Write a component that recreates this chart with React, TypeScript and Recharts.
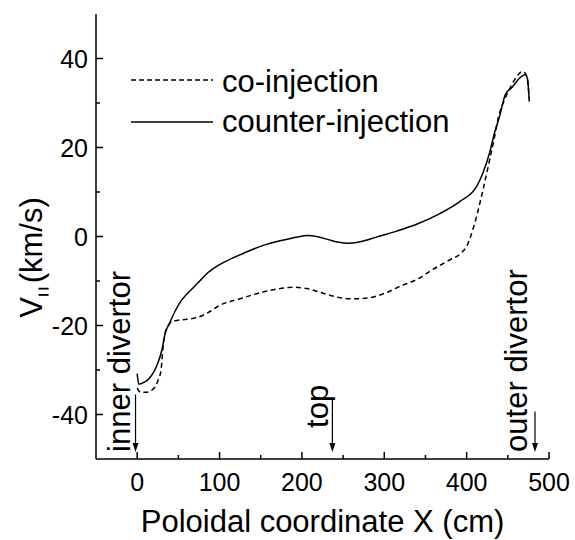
import React from "react";
import {
	LineChart,
	Line,
	XAxis,
	YAxis,
	Legend,
	Label,
	ReferenceLine,
} from "recharts";

// poloidal coordinate (cm) and V|| (km/s)
const coX = [0, 4, 12, 18, 22, 26, 29, 31.5, 34, 38, 42, 50, 60, 73, 86, 100, 125, 150, 174, 190, 206, 218, 230, 245, 262, 280, 300, 319, 340, 359, 378, 394, 400, 410, 420, 428, 434, 438, 447, 453, 461, 468, 473, 476];
const coV = [-34, -35, -35, -34.5, -33.7, -32, -30, -24.7, -21.6, -20, -19.1, -18.8, -18.6, -18.2, -17.1, -15.5, -14, -12.6, -11.7, -11.4, -11.7, -12.3, -13, -13.7, -14, -13.8, -12.8, -11.2, -9.6, -7.4, -5.4, -3.6, -2.2, 3.1, 10.6, 17.3, 22.5, 26.3, 31.2, 33.5, 36, 37.1, 36, 31];

const counterX = [0, 2, 8, 14, 20, 25, 30, 34, 40, 46, 52, 60, 68, 77, 86, 100, 113, 130, 153, 175, 195, 206, 218, 232, 245, 256, 268, 282, 295, 315, 340, 368, 392, 412, 420, 428, 434, 440, 447, 455, 465, 471, 474, 476];
const counterV = [-30.8, -33.2, -32.8, -32, -30.5, -28.5, -25.5, -21.8, -19.2, -16.8, -14.8, -13, -11.5, -9.8, -8.1, -6.3, -5.1, -3.7, -2, -0.9, -0.1, 0.2, 0, -0.7, -1.3, -1.5, -1.3, -0.6, 0.1, 1.2, 2.8, 5.2, 7.9, 11.2, 14.4, 18.9, 23.4, 27, 31.9, 33.5, 35.7, 36.4, 35.3, 30.3];

const xTicks = [0, 50, 100, 150, 200, 250, 300, 350, 400, 450, 500];
const yTicks = [-40, -30, -20, -10, 0, 10, 20, 30, 40];

// arrows marking positions along the poloidal coordinate
const markLabels = ["inner divertor", "top", "outer divertor"];
const markX = [-2, 237, 483];
const markTopV = [-35.5, -36.6, -39.3];
const markBottomV = -48.4;

const coData = coX.map((x, i) => ({ x, v: coV[i] }));
const counterData = counterX.map((x, i) => ({ x, v: counterV[i] }));

const FONT = "'Liberation Sans', Arial, Helvetica, sans-serif";

const BottomTick = (props: any) => {
	const { x, y, payload } = props;
	const major = payload.value % 100 === 0;
	return (
		<g>
			<line x1={x} y1={y} x2={x} y2={y - (major ? 7 : 4)} stroke="#000" strokeWidth={1.5} />
			{major && (
				<text x={x} y={y + 32} textAnchor="middle" fontSize={25} fontFamily={FONT} fill="#000">
					{payload.value}
				</text>
			)}
		</g>
	);
};

const TopTick = (props: any) => {
	const { x, y, payload } = props;
	const major = payload.value % 100 === 0;
	return <line x1={x} y1={y} x2={x} y2={y + (major ? 7 : 4)} stroke="#000" strokeWidth={1.5} />;
};

const LeftTick = (props: any) => {
	const { x, y, payload } = props;
	const major = payload.value % 20 === 0;
	return (
		<g>
			<line x1={x} y1={y} x2={x + (major ? 7 : 4)} y2={y} stroke="#000" strokeWidth={1.5} />
			{major && (
				<text x={x - 8} y={y + 9} textAnchor="end" fontSize={25} fontFamily={FONT} fill="#000">
					{payload.value}
				</text>
			)}
		</g>
	);
};

const RightTick = (props: any) => {
	const { x, y, payload } = props;
	const major = payload.value % 20 === 0;
	return <line x1={x} y1={y} x2={x - (major ? 7 : 4)} y2={y} stroke="#000" strokeWidth={1.5} />;
};

const YTitle = (props: any) => {
	const vb = props.viewBox;
	const cx = vb.x + 42;
	const cy = vb.y + vb.height / 2 + 21;
	return (
		<text
			x={cx}
			y={cy}
			transform={`rotate(-90 ${cx} ${cy})`}
			textAnchor="middle"
			fontSize={31}
			fontFamily={FONT}
			fill="#000"
		>
			V
			<tspan fontSize={9} dx={1} dy={4} letterSpacing={4} stroke="#000" strokeWidth={1.1}>||</tspan>
			<tspan dy={-4}>(km/s)</tspan>
		</text>
	);
};

const XTitle = (props: any) => {
	const vb = props.viewBox;
	return (
		<text
			x={vb.x + vb.width / 2}
			y={vb.y + 73}
			textAnchor="middle"
			fontSize={31}
			fontFamily={FONT}
			fill="#000"
		>
			Poloidal coordinate X (cm)
		</text>
	);
};

const markShape = (label: string, dx: number, dy: number) => (p: any) => {
	const { x1, y1, x2, y2 } = p;
	return (
		<g>
			<line x1={x1} y1={y1} x2={x2} y2={y2 - 8} stroke="#000" strokeWidth={1.2} />
			<polygon points={`${x2 - 3},${y2 - 9} ${x2 + 3},${y2 - 9} ${x2},${y2}`} fill="#000" />
			<text
				x={x2 + dx}
				y={y2 + dy}
				transform={`rotate(-90 ${x2 + dx} ${y2 + dy})`}
				fontSize={31}
				fontFamily={FONT}
				fill="#000"
			>
				{label}
			</text>
		</g>
	);
};

const markDx = [-6, -4, -8];
const markDy = [0, -24, 0];

const LegendBox = () => (
	<svg width={360} height={90} style={{ display: "block" }}>
		<line x1={6} y1={20} x2={88} y2={20} stroke="#000" strokeWidth={1.5} strokeDasharray="5 3" />
		<text x={97} y={32} fontSize={31} fontFamily={FONT} fill="#000">co-injection</text>
		<line x1={6} y1={62} x2={88} y2={62} stroke="#000" strokeWidth={1.5} />
		<text x={97} y={72} fontSize={31} fontFamily={FONT} fill="#000">counter-injection</text>
	</svg>
);

export default function App() {
	return (
		<div style={{ position: "absolute", left: 0, top: 0 }}>
			<LineChart
				width={575}
				height={540}
				margin={{ top: 14, right: 26, bottom: 0, left: 0 }}
			>
				<XAxis
					dataKey="x"
					type="number"
					domain={[-50, 500]}
					ticks={xTicks}
					interval={0}
					height={81}
					tickSize={0}
					tickMargin={0}
					tickLine={false}
					tick={<BottomTick />}
					axisLine={{ stroke: "#000", strokeWidth: 1.5 }}
				>
					<Label content={<XTitle />} />
				</XAxis>
				<XAxis
					xAxisId="top"
					orientation="top"
					type="number"
					domain={[-50, 500]}
					ticks={xTicks}
					interval={0}
					height={0}
					tickSize={0}
					tickMargin={0}
					tickLine={false}
					tick={<TopTick />}
					axisLine={{ stroke: "#000", strokeWidth: 1.5 }}
				/>
				<YAxis
					type="number"
					domain={[-50, 50]}
					ticks={yTicks}
					interval={0}
					width={96}
					tickSize={0}
					tickMargin={0}
					tickLine={false}
					tick={<LeftTick />}
					axisLine={{ stroke: "#000", strokeWidth: 1.5 }}
				>
					<Label content={<YTitle />} />
				</YAxis>
				<YAxis
					yAxisId="right"
					orientation="right"
					type="number"
					domain={[-50, 50]}
					ticks={yTicks}
					interval={0}
					width={0}
					tickSize={0}
					tickMargin={0}
					tickLine={false}
					tick={<RightTick />}
					axisLine={{ stroke: "#000", strokeWidth: 1.5 }}
				/>
				<Legend
					layout="horizontal"
					align="center"
					verticalAlign="middle"
					wrapperStyle={{ left: 125, top: 60, width: 360, height: 90 }}
					content={<LegendBox />}
				/>
				<Line
					data={coData}
					dataKey="v"
					name="co-injection"
					type="monotone"
					stroke="#000"
					strokeWidth={1.5}
					strokeDasharray="5 3.5"
					dot={false}
					activeDot={false}
					isAnimationActive={false}
				/>
				<Line
					data={counterData}
					dataKey="v"
					name="counter-injection"
					type="monotone"
					stroke="#000"
					strokeWidth={1.5}
					dot={false}
					activeDot={false}
					isAnimationActive={false}
				/>
				{markLabels.map((label, i) => (
					<ReferenceLine
						key={label}
						segment={[
							{ x: markX[i], y: markTopV[i] },
							{ x: markX[i], y: markBottomV },
						]}
						stroke="#000"
						shape={markShape(label, markDx[i], markDy[i])}
					/>
				))}
			</LineChart>
		</div>
	);
}
